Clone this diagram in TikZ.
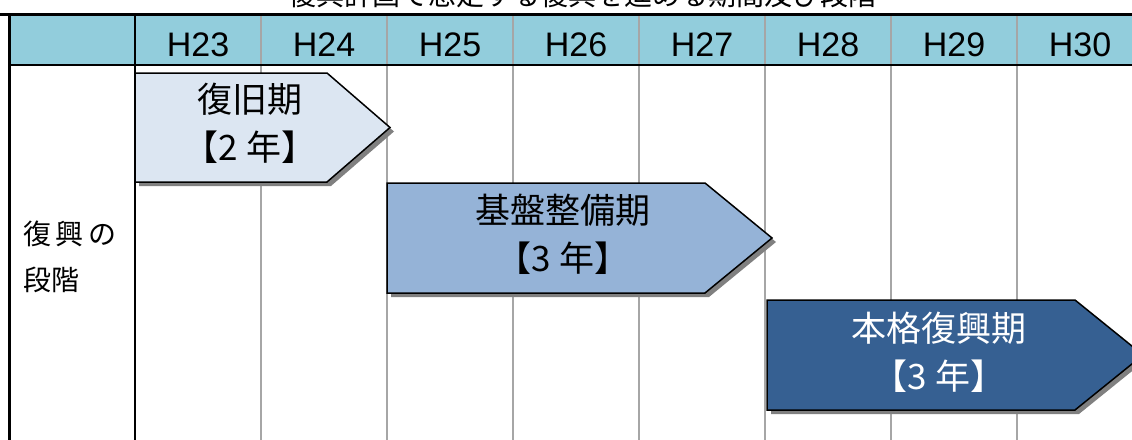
\documentclass[tikz,border=0pt]{standalone}
\usepackage{fontspec}
\setmainfont{Noto Sans CJK JP}
\newfontfamily\yearfont{Liberation Sans}
\definecolor{hdr}{RGB}{146,205,220}
\definecolor{phaseA}{RGB}{220,230,242}
\definecolor{phaseB}{RGB}{149,179,215}
\definecolor{phaseC}{RGB}{54,96,146}
\definecolor{gridgray}{RGB}{166,166,166}
\definecolor{shadowgray}{RGB}{128,128,128}
\begin{document}
\begin{tikzpicture}[x=1pt,y=-1pt,
  gridline/.style={draw=gridgray,line width=1.5pt},
  frameline/.style={draw=black,line width=3pt},
  yearlabel/.style={anchor=base,font=\yearfont\fontsize{34}{34}\selectfont,inner sep=0pt},
  phaselabel/.style={align=center,font=\fontsize{35}{48}\selectfont,inner sep=0pt},
  phaseshape/.style={draw=black,line width=1.5pt,line join=miter},
  shadowshape/.style={fill=shadowgray,draw=none}]
\useasboundingbox (0,0) rectangle (1132,439);
% title (cut off at top)
\node[font=\fontsize{28}{28}\selectfont,inner sep=0pt] (title) at (582,-5) {復興計画で想定する復興を進める期間及び段階};
% header fill
\fill[hdr] (9,14) rectangle (1140,65);
% grid lines
\foreach \x in {261,387,513,639,765,891,1017}{
  \draw[gridline] (\x,14) -- (\x,445);
}
% frame lines
\draw[frameline] (0,14) -- (1140,14);
\draw[frameline] (9,14) -- (9,445);
\draw[draw=black,line width=2.5pt] (9,65) -- (1140,65);
\draw[draw=black,line width=2.5pt] (135,14) -- (135,445);
% year labels
\foreach \lab/\x in {H23/198,H24/324,H25/450,H26/576,H27/702,H28/828,H29/954,H30/1080}{
  \node[yearlabel] (y\lab) at (\x,56) {\lab};
}
% row label
\node[anchor=west,align=left,font=\fontsize{28}{46}\selectfont,inner sep=0pt] (rowlab) at (23,257) {復\,興\,の\\段階};
% phase 1
\fill[shadowshape] (139,77) -- (331,77) -- (394,131.5) -- (331,186) -- (139,186) -- cycle;
\draw[phaseshape,fill=phaseA] (135,73) -- (327,73) -- (390,127.5) -- (327,182) -- (135,182) -- cycle;
\node[phaselabel] (p1) at (250,123) {復旧期\\【2 年】};
% phase 2
\fill[shadowshape] (391,187) -- (709,187) -- (776,242) -- (709,297) -- (391,297) -- cycle;
\draw[phaseshape,fill=phaseB] (387,183) -- (705,183) -- (772,238) -- (705,293) -- (387,293) -- cycle;
\node[phaselabel] (p2) at (563,234) {基盤整備期\\【3 年】};
% phase 3
\fill[shadowshape] (771,304) -- (1079,304) -- (1147,359) -- (1079,414) -- (771,414) -- cycle;
\draw[phaseshape,fill=phaseC] (767,300) -- (1075,300) -- (1143,355) -- (1075,410) -- (767,410) -- cycle;
\node[phaselabel,text=white] (p3) at (939,352) {本格復興期\\【3 年】};
\end{tikzpicture}
\end{document}
